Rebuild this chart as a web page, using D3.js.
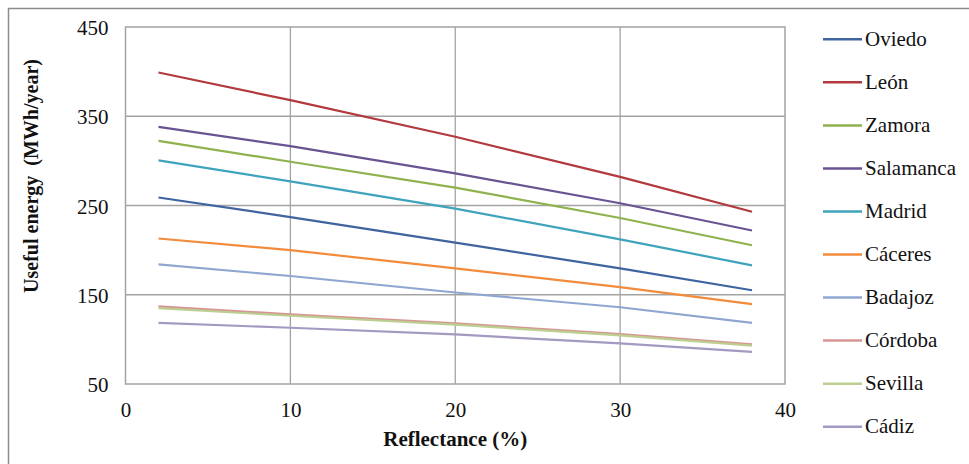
<!DOCTYPE html>
<html>
<head>
<meta charset="utf-8">
<script src="https://cdn.jsdelivr.net/npm/d3@7"></script>
<style>
  html, body { margin: 0; padding: 0; background: #fff; }
  #chart text { font-family: "Liberation Serif", serif !important; }
</style>
</head>
<body>
<svg id="chart" width="969" height="464"></svg>
<script>
// ---- data ----
const reflectance = [2, 10, 20, 30, 38];
const cities = ["Oviedo", "León", "Zamora", "Salamanca", "Madrid", "Cáceres", "Badajoz", "Córdoba", "Sevilla", "Cádiz"];
const oviedo    = [259, 237, 208.5, 179.5, 155];
const leon      = [399, 368, 327, 282, 243];
const zamora    = [322.5, 299, 270, 236, 205.5];
const salamanca = [338, 316.5, 286, 252.5, 222];
const madrid    = [300.5, 277, 246.5, 212, 183];
const caceres   = [213, 200, 179.5, 158.5, 139.5];
const badajoz   = [184, 171, 152.5, 136, 118.5];
const cordoba   = [137, 128, 118, 106, 94.5];
const sevilla   = [135, 126.5, 116.5, 104.5, 93];
const cadiz     = [118.5, 113, 105.5, 95.5, 86];
const seriesValues = [oviedo, leon, zamora, salamanca, madrid, caceres, badajoz, cordoba, sevilla, cadiz];
const xTicks = [0, 10, 20, 30, 40];
const yTicks = [50, 150, 250, 350, 450];
const colors = ["#3F64A0", "#B23A3E", "#8FB14E", "#6A5392", "#40A3BD", "#F28B3C", "#8FA7D0", "#D69593", "#BCCF90", "#A499C0"];

const FONT = "Liberation Serif";

// ---- layout ----
const svg = d3.select("#chart");
const plot = { left: 125.5, right: 785, top: 27, bottom: 384 };
const x = d3.scaleLinear().domain([0, 40]).range([plot.left, plot.right]);
const y = d3.scaleLinear().domain([50, 450]).range([plot.bottom, plot.top]);

// outer chart border
svg.append("rect")
  .attr("x", 8.5).attr("y", 8.5)
  .attr("width", 980).attr("height", 480)
  .attr("fill", "none").attr("stroke", "#8c8c8c").attr("stroke-width", 1.5);

const gridColor = "#a3a3a3";
svg.append("g").selectAll("line")
  .data(xTicks.slice(1, -1)).join("line")
  .attr("x1", d => x(d)).attr("x2", d => x(d))
  .attr("y1", plot.top).attr("y2", plot.bottom)
  .attr("stroke", gridColor).attr("stroke-width", 1.3);
svg.append("g").selectAll("line")
  .data(yTicks.slice(1, -1)).join("line")
  .attr("x1", plot.left).attr("x2", plot.right)
  .attr("y1", d => y(d)).attr("y2", d => y(d))
  .attr("stroke", gridColor).attr("stroke-width", 1.3);
svg.append("rect")
  .attr("x", plot.left).attr("y", plot.top)
  .attr("width", plot.right - plot.left).attr("height", plot.bottom - plot.top)
  .attr("fill", "none").attr("stroke", gridColor).attr("stroke-width", 1.5);

// axes (labels only)
const xAxis = d3.axisBottom(x).tickValues(xTicks).tickSize(0).tickPadding(0).tickFormat(d3.format("d"));
const gx = svg.append("g").attr("transform", `translate(0,${plot.bottom})`).call(xAxis)
  .attr("font-family", FONT).attr("font-size", 21);
gx.select(".domain").remove();
gx.selectAll("text").attr("font-family", FONT).attr("fill", "#111")
  .attr("dy", null).attr("y", 33);

const yAxis = d3.axisLeft(y).tickValues(yTicks).tickSize(0).tickPadding(0).tickFormat(d3.format("d"));
const gy = svg.append("g").attr("transform", `translate(${plot.left - 17},0)`).call(yAxis)
  .attr("font-family", FONT).attr("font-size", 21);
gy.select(".domain").remove();
gy.selectAll("text").attr("font-family", FONT).attr("fill", "#111").attr("dy", "0.36em");

// lines
const line = d3.line().x((d, i) => x(reflectance[i])).y(d => y(d));
svg.append("g").selectAll("path")
  .data(seriesValues).join("path")
  .attr("d", d => line(d))
  .attr("fill", "none")
  .attr("stroke", (d, i) => colors[i])
  .attr("stroke-width", 2.2)
  .attr("stroke-linejoin", "round");

// axis titles
svg.append("text")
  .attr("x", x(20)).attr("y", 446)
  .attr("text-anchor", "middle")
  .attr("font-family", FONT)
  .attr("font-weight", "bold").attr("font-size", 21).attr("fill", "#111")
  .text("Reflectance (%)");
svg.append("text")
  .attr("transform", "translate(38,176) rotate(-90)")
  .attr("text-anchor", "middle")
  .attr("font-family", FONT)
  .attr("font-weight", "bold").attr("font-size", 20).attr("fill", "#111")
  .attr("xml:space", "preserve")
  .text("Useful energy\u00a0 (MWh/year)");

// legend
const legendY = d3.scaleLinear().domain([0, cities.length - 1]).range([39.3, 426.7]);
const lg = svg.append("g").selectAll("g").data(cities).join("g")
  .attr("transform", (d, i) => `translate(0,${legendY(i)})`);
lg.append("line")
  .attr("x1", 823).attr("x2", 862).attr("y1", 0).attr("y2", 0)
  .attr("stroke", (d, i) => colors[i]).attr("stroke-width", 2.5);
lg.append("text")
  .attr("x", 865).attr("y", 6.5)
  .attr("font-family", FONT)
  .attr("font-size", 21).attr("fill", "#111")
  .text(d => d);
</script>
</body>
</html>
